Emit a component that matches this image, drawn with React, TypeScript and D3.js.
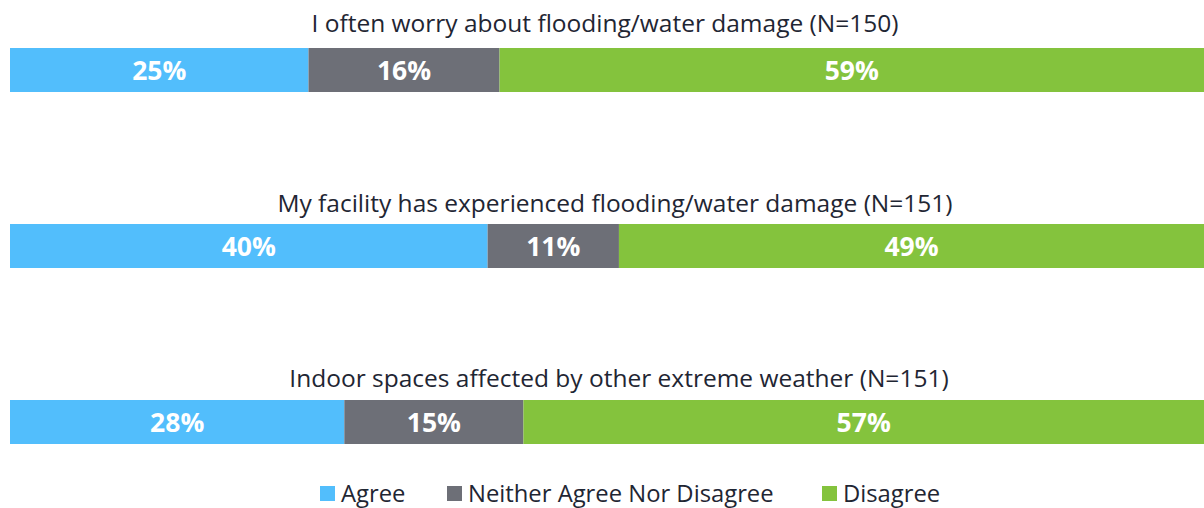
import React from "react";
import * as d3 from "d3";

const categories = [
  "I often worry about flooding/water damage (N=150)",
  "My facility has experienced flooding/water damage (N=151)",
  "Indoor spaces affected by other extreme weather (N=151)",
];
const seriesNames = ["Agree", "Neither Agree Nor Disagree", "Disagree"];
const agree = [25, 40, 28];
const neither = [16, 11, 15];
const disagree = [59, 49, 57];
const colors = ["#52BEFC", "#6D6F77", "#84C33D"];

const W = 1204;
const H = 508;

// layout (not data): title centres and baselines measured from the reference
const titleCx = [605, 615, 619];
const titleGap = [16, 12, 13];

export default function App() {
  const x = d3.scaleLinear().domain([0, 100]).range([10, 1204]);
  const y = d3.scaleBand<string>().domain(categories).range([48, 576]).paddingInner(0).paddingOuter(0);
  const rows = categories.map((c, i) => ({ c, vals: [agree[i], neither[i], disagree[i]] }));
  const stack = d3.stack<number[]>().keys([0, 1, 2] as any).value((d: any, k: any) => d[k]);
  const stacked = stack(rows.map((r) => r.vals) as any);
  const bh = 44;
  const font = "'Open Sans', sans-serif";
  const legendX = [320, 447, 822];
  return (
    <svg width={W} height={H} style={{ position: "absolute", left: 0, top: 0, background: "#fff" }}>
      {categories.map((c, i) => {
        const yy = y(c) as number;
        return (
          <g key={c}>
            <text x={titleCx[i]} y={yy - titleGap[i]} textAnchor="middle" fontFamily={font} fontSize={24.5} fill="#1F2633">
              {c}
            </text>
            {stacked.map((s, k) => {
              const d = s[i];
              const x0 = x(d[0]);
              const x1 = x(d[1]);
              return (
                <g key={k}>
                  <rect x={x0} y={yy} width={x1 - x0} height={bh} fill={colors[k]} />
                  <text x={(x0 + x1) / 2} y={yy + bh / 2 + 10} textAnchor="middle" fontFamily={font} fontWeight="bold" fontSize={26.5} fill="#fff">
                    {rows[i].vals[k]}%
                  </text>
                </g>
              );
            })}
          </g>
        );
      })}
      {seriesNames.map((n, k) => (
        <g key={n}>
          <rect x={legendX[k]} y={486} width={15} height={15} fill={colors[k]} />
          <text x={legendX[k] + 21} y={502} fontFamily={font} fontSize={23.8} fill="#1F2633">
            {n}
          </text>
        </g>
      ))}
    </svg>
  );
}
